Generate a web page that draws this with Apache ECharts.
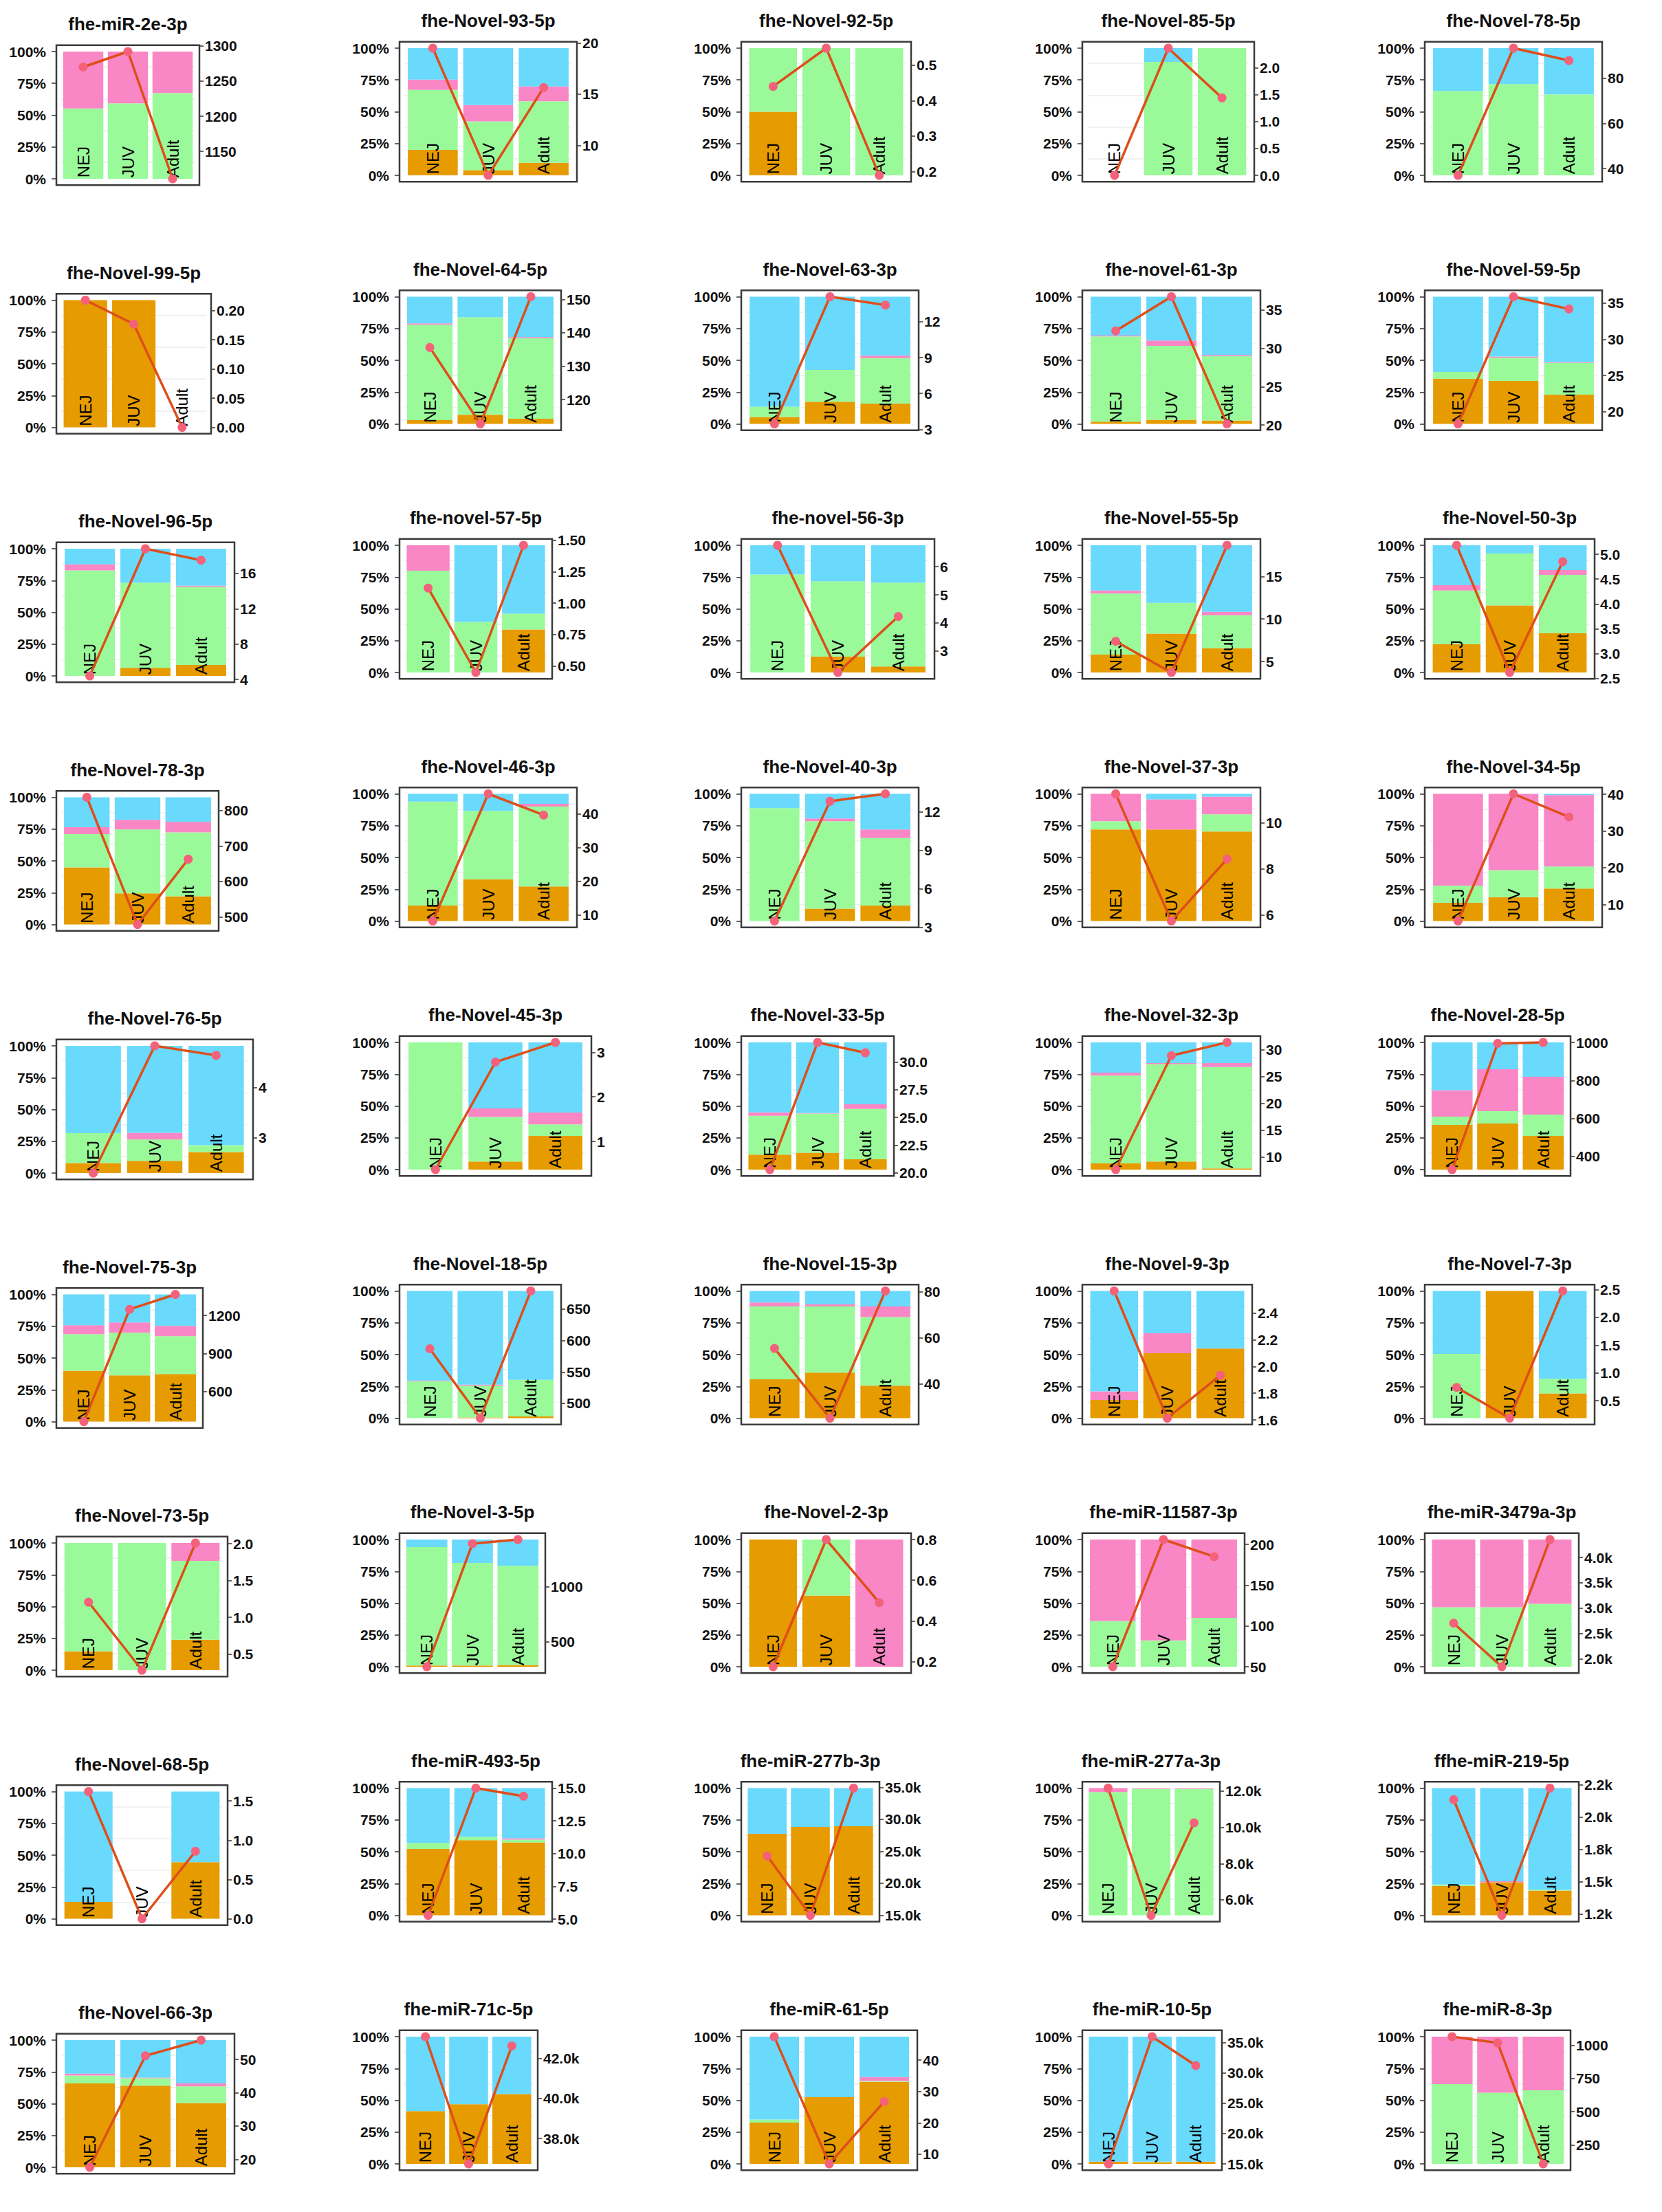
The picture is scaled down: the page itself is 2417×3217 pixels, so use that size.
<!DOCTYPE html>
<html>
<head>
<meta charset="utf-8">
<style>
  html, body { margin: 0; padding: 0; background: #ffffff; }
  #chart { width: 2417px; height: 3217px; }
</style>
<script src="https://cdn.jsdelivr.net/npm/echarts@6.0.0/dist/echarts.min.js"></script>
</head>
<body>
<div id="chart"></div>
<script>
// stages on the x axis of every panel
const stages = ['NEJ', 'JUV', 'Adult']

const titles = [
  'fhe-miR-2e-3p', 'fhe-Novel-93-5p', 'fhe-Novel-92-5p', 'fhe-Novel-85-5p', 'fhe-Novel-78-5p',
  'fhe-Novel-99-5p', 'fhe-Novel-64-5p', 'fhe-Novel-63-3p', 'fhe-novel-61-3p', 'fhe-Novel-59-5p',
  'fhe-Novel-96-5p', 'fhe-novel-57-5p', 'fhe-novel-56-3p', 'fhe-Novel-55-5p', 'fhe-Novel-50-3p',
  'fhe-Novel-78-3p', 'fhe-Novel-46-3p', 'fhe-Novel-40-3p', 'fhe-Novel-37-3p', 'fhe-Novel-34-5p',
  'fhe-Novel-76-5p', 'fhe-Novel-45-3p', 'fhe-Novel-33-5p', 'fhe-Novel-32-3p', 'fhe-Novel-28-5p',
  'fhe-Novel-75-3p', 'fhe-Novel-18-5p', 'fhe-Novel-15-3p', 'fhe-Novel-9-3p', 'fhe-Novel-7-3p',
  'fhe-Novel-73-5p', 'fhe-Novel-3-5p', 'fhe-Novel-2-3p', 'fhe-miR-11587-3p', 'fhe-miR-3479a-3p',
  'fhe-Novel-68-5p', 'fhe-miR-493-5p', 'fhe-miR-277b-3p', 'fhe-miR-277a-3p', 'ffhe-miR-219-5p',
  'fhe-Novel-66-3p', 'fhe-miR-71c-5p', 'fhe-miR-61-5p', 'fhe-miR-10-5p', 'fhe-miR-8-3p'
]

// stacked shares per stage (NEJ, JUV, Adult), bottom to top: orange, green, pink, blue
const orangeShare = [
  [0, 0, 0], [0.2, 0.041, 0.099], [0.5, 0, 0], [0, 0, 0], [0, 0, 0],
  [1, 1, 0], [0.03, 0.072, 0.04], [0.054, 0.174, 0.16], [0.018, 0.032, 0.027], [0.354, 0.338, 0.23],
  [0, 0.063, 0.087], [0, 0, 0.338], [0, 0.126, 0.047], [0.14, 0.306, 0.19], [0.221, 0.527, 0.309],
  [0.448, 0.244, 0.222], [0.121, 0.329, 0.271], [0, 0.097, 0.121], [0.72, 0.72, 0.704], [0.143, 0.188, 0.255],
  [0.078, 0.096, 0.165], [0, 0.063, 0.265], [0.117, 0.132, 0.081], [0.049, 0.063, 0.009], [0.351, 0.362, 0.265],
  [0.4, 0.363, 0.374], [0, 0.005, 0.014], [0.305, 0.358, 0.256], [0.143, 0.511, 0.547], [0, 1, 0.194],
  [0.148, 0, 0.239], [0.009, 0.009, 0.014], [1, 0.559, 0], [0, 0, 0], [0, 0, 0],
  [0.133, 0, 0.445], [0.522, 0.591, 0.573], [0.64, 0.695, 0.7], [0, 0, 0], [0.231, 0.26, 0.195],
  [0.66, 0.642, 0.505], [0.415, 0.469, 0.549], [0.324, 0.524, 0.645], [0.018, 0.013, 0.018], [0, 0, 0]
]
const greenShare = [
  [0.553, 0.593, 0.674], [0.472, 0.384, 0.483], [0.5, 1, 1], [0, 0.892, 1], [0.664, 0.718, 0.637],
  [0, 0, 0], [0.75, 0.766, 0.633], [0.081, 0.251, 0.357], [0.67, 0.582, 0.506], [0.054, 0.182, 0.25],
  [0.83, 0.669, 0.613], [0.8, 0.397, 0.124], [0.77, 0.59, 0.658], [0.48, 0.241, 0.26], [0.423, 0.408, 0.459],
  [0.263, 0.503, 0.503], [0.818, 0.537, 0.629], [0.888, 0.688, 0.532], [0.065, 0, 0.135], [0.135, 0.212, 0.173],
  [0.235, 0.168, 0.054], [1, 0.351, 0.09], [0.306, 0.309, 0.396], [0.69, 0.766, 0.798], [0.065, 0.097, 0.167],
  [0.288, 0.336, 0.297], [0.29, 0.251, 0.287], [0.573, 0.52, 0.538], [0, 0, 0], [0.505, 0, 0.116],
  [0.852, 1, 0.62], [0.931, 0.807, 0.779], [0, 0.441, 0], [0.36, 0.207, 0.384], [0.468, 0.468, 0.495],
  [0, 0, 0], [0.047, 0.027, 0.022], [0, 0, 0], [0.969, 0.995, 0.995], [0.011, 0, 0.005],
  [0.062, 0.058, 0.131], [0, 0, 0], [0.025, 0, 0.006], [0, 0.005, 0], [0.627, 0.56, 0.578]
]
const pinkShare = [
  [0.447, 0.407, 0.326], [0.081, 0.128, 0.117], [0, 0, 0], [0, 0, 0], [0, 0, 0],
  [0, 0, 0], [0.01, 0, 0.009], [0, 0, 0.02], [0.007, 0.041, 0.009], [0, 0.01, 0.005],
  [0.047, 0, 0.01], [0.2, 0, 0], [0, 0, 0], [0.024, 0, 0.027], [0.043, 0, 0.038],
  [0.054, 0.076, 0.082], [0, 0, 0.021], [0, 0.022, 0.067], [0.215, 0.237, 0.139], [0.722, 0.6, 0.563],
  [0, 0.052, 0], [0, 0.067, 0.094], [0.027, 0.004, 0.037], [0.023, 0.009, 0.031], [0.209, 0.33, 0.298],
  [0.07, 0.081, 0.082], [0.006, 0.007, 0], [0.032, 0.018, 0.084], [0.068, 0.157, 0], [0, 0, 0],
  [0, 0, 0.141], [0, 0, 0], [0, 0, 1], [0.64, 0.793, 0.616], [0.532, 0.532, 0.505],
  [0, 0, 0], [0, 0, 0.01], [0, 0, 0], [0.031, 0.005, 0.005], [0, 0.007, 0],
  [0.014, 0.005, 0.024], [0, 0, 0], [0, 0, 0.031], [0, 0, 0], [0.373, 0.44, 0.422]
]
const blueShare = [
  [0, 0, 0], [0.247, 0.447, 0.301], [0, 0, 0], [0, 0.108, 0], [0.336, 0.282, 0.363],
  [0, 0, 0], [0.21, 0.162, 0.318], [0.865, 0.575, 0.463], [0.305, 0.345, 0.458], [0.592, 0.47, 0.515],
  [0.123, 0.268, 0.29], [0, 0.603, 0.538], [0.23, 0.284, 0.295], [0.356, 0.453, 0.523], [0.313, 0.065, 0.194],
  [0.235, 0.177, 0.193], [0.061, 0.134, 0.079], [0.112, 0.193, 0.28], [0, 0.043, 0.022], [0, 0, 0.009],
  [0.687, 0.684, 0.781], [0, 0.519, 0.551], [0.55, 0.555, 0.486], [0.238, 0.162, 0.162], [0.375, 0.211, 0.27],
  [0.242, 0.22, 0.247], [0.704, 0.737, 0.699], [0.09, 0.104, 0.122], [0.789, 0.332, 0.453], [0.495, 0, 0.69],
  [0, 0, 0], [0.06, 0.184, 0.207], [0, 0, 0], [0, 0, 0], [0, 0, 0],
  [0.867, 0, 0.555], [0.431, 0.382, 0.395], [0.36, 0.305, 0.3], [0, 0, 0], [0.758, 0.733, 0.8],
  [0.264, 0.295, 0.34], [0.585, 0.531, 0.451], [0.651, 0.476, 0.318], [0.982, 0.982, 0.982], [0, 0, 0]
]

// expression values drawn as the red line (right axis)
const lineValues = [
  [1270, 1292, 1111], [19.49, 7.07, 15.64], [0.44, 0.548, 0.189], [0, 2.37, 1.443], [37, 93.4, 87.9],
  [0.218, 0.177, 0], [135.6, 112.7, 150.8], [3.45, 14.1, 13.4], [32.25, 36.7, 20.15], [18.3, 35.9, 34.2],
  [4.4, 18.8, 17.5], [1.12, 0.449, 1.46], [6.76, 2.24, 4.23], [7.37, 3.71, 18.66], [5.18, 2.62, 4.85],
  [837.7, 478.6, 663], [8.2, 45.9, 39.6], [3.47, 12.8, 13.38], [11.27, 5.73, 8.43], [5.5, 40.1, 33.8],
  [2.3, 4.83, 4.64], [0.37, 2.78, 3.22], [20.3, 31.76, 30.83], [7.65, 28.9, 31.37], [331, 995, 1000],
  [360, 1249, 1367], [587, 476.4, 679], [55.4, 25.2, 80.3], [2.563, 1.614, 1.934], [0.74, 0.186, 2.475],
  [1.206, 0.281, 2.01], [271, 1390, 1427], [0.175, 0.8, 0.49], [50, 206, 185], [2701, 1842, 4353],
  [1.62, 0, 0.86], [5.3, 15, 14.38], [24270, 15000, 34890], [12166, 5145, 10250], [2134, 1241, 2223],
  [17.6, 51.1, 55.8], [43101, 36725, 42636], [47.5, 6.9, 26.8], [15000, 35949, 31190], [1066, 1019, 107]
]

// right axis ticks and their printed labels
const rightTicks = [
  [1150, 1200, 1250, 1300], [10, 15, 20], [0.2, 0.3, 0.4, 0.5], [0, 0.5, 1, 1.5, 2], [40, 60, 80],
  [0, 0.05, 0.1, 0.15, 0.2], [120, 130, 140, 150], [3, 6, 9, 12], [20, 25, 30, 35], [20, 25, 30, 35],
  [4, 8, 12, 16], [0.5, 0.75, 1, 1.25, 1.5], [3, 4, 5, 6], [5, 10, 15], [2.5, 3, 3.5, 4, 4.5, 5],
  [500, 600, 700, 800], [10, 20, 30, 40], [3, 6, 9, 12], [6, 8, 10], [10, 20, 30, 40],
  [3, 4], [1, 2, 3], [20, 22.5, 25, 27.5, 30], [10, 15, 20, 25, 30], [400, 600, 800, 1000],
  [600, 900, 1200], [500, 550, 600, 650], [40, 60, 80], [1.6, 1.8, 2, 2.2, 2.4], [0.5, 1, 1.5, 2, 2.5],
  [0.5, 1, 1.5, 2], [500, 1000], [0.2, 0.4, 0.6, 0.8], [50, 100, 150, 200], [2000, 2500, 3000, 3500, 4000],
  [0, 0.5, 1, 1.5], [5, 7.5, 10, 12.5, 15], [15000, 20000, 25000, 30000, 35000], [6000, 8000, 10000, 12000], [1250, 1500, 1750, 2000, 2250],
  [20, 30, 40, 50], [38000, 40000, 42000], [10, 20, 30, 40], [15000, 20000, 25000, 30000, 35000], [250, 500, 750, 1000]
]
const rightTickLabels = [
  ['1150', '1200', '1250', '1300'], ['10', '15', '20'], ['0.2', '0.3', '0.4', '0.5'], ['0.0', '0.5', '1.0', '1.5', '2.0'], ['40', '60', '80'],
  ['0.00', '0.05', '0.10', '0.15', '0.20'], ['120', '130', '140', '150'], ['3', '6', '9', '12'], ['20', '25', '30', '35'], ['20', '25', '30', '35'],
  ['4', '8', '12', '16'], ['0.50', '0.75', '1.00', '1.25', '1.50'], ['3', '4', '5', '6'], ['5', '10', '15'], ['2.5', '3.0', '3.5', '4.0', '4.5', '5.0'],
  ['500', '600', '700', '800'], ['10', '20', '30', '40'], ['3', '6', '9', '12'], ['6', '8', '10'], ['10', '20', '30', '40'],
  ['3', '4'], ['1', '2', '3'], ['20.0', '22.5', '25.0', '27.5', '30.0'], ['10', '15', '20', '25', '30'], ['400', '600', '800', '1000'],
  ['600', '900', '1200'], ['500', '550', '600', '650'], ['40', '60', '80'], ['1.6', '1.8', '2.0', '2.2', '2.4'], ['0.5', '1.0', '1.5', '2.0', '2.5'],
  ['0.5', '1.0', '1.5', '2.0'], ['500', '1000'], ['0.2', '0.4', '0.6', '0.8'], ['50', '100', '150', '200'], ['2.0k', '2.5k', '3.0k', '3.5k', '4.0k'],
  ['0.0', '0.5', '1.0', '1.5'], ['5.0', '7.5', '10.0', '12.5', '15.0'], ['15.0k', '20.0k', '25.0k', '30.0k', '35.0k'], ['6.0k', '8.0k', '10.0k', '12.0k'], ['1.2k', '1.5k', '1.8k', '2.0k', '2.2k'],
  ['20', '30', '40', '50'], ['38.0k', '40.0k', '42.0k'], ['10', '20', '30', '40'], ['15.0k', '20.0k', '25.0k', '30.0k', '35.0k'], ['250', '500', '750', '1000']
]

// layout: frame width of each panel (px)
const panelWidths = [
  208, 258, 247, 250, 258,
  225, 235, 258, 259, 258,
  259, 222, 281, 259, 247,
  236, 258, 258, 259, 258,
  286, 279, 222, 259, 212,
  213, 235, 258, 247, 247,
  249, 212, 247, 236, 224,
  249, 222, 201, 200, 224,
  259, 201, 256, 203, 212
]
const colLeft = [82, 581, 1078, 1574, 2072]
const rowTop = 70        // y of the 100% line in the first row
const rowStep = 361.5
const plotH = 185        // 0% to 100% height

const FONT = '"Liberation Sans", Arial, Helvetica, sans-serif'
const segColors = ['#E69B00', '#9AFA9A', '#F987C5', '#69D9FC']
const shareTicks = [0, 0.25, 0.5, 0.75, 1]

const chart = echarts.init(document.getElementById('chart'), null, { renderer: 'svg' })

const grid = []
const xAxis = []
const yAxis = []
const series = []
const title = []
const graphic = []

titles.forEach((name, i) => {
  const r = Math.floor(i / 5)
  const c = i % 5
  const w = panelWidths[i]
  const left = colLeft[c]
  const y100 = rowTop + r * rowStep + (c === 0 ? 5 : 0)
  const top = y100 - plotH * 0.05
  const h = plotH * 1.1
  const pad = w / 32   // ggplot discrete expansion: 0.6 over 3 categories

  grid.push({
    left: left + pad, top, width: w - 2 * pad, height: h,
    containLabel: false, outerBoundsMode: 'none', show: false
  })

  xAxis.push({
    type: 'category', gridIndex: i, data: stages, z: 10,
    axisLine: { show: false }, axisTick: { show: false }, splitLine: { show: false },
    axisLabel: {
      inside: true, rotate: 90, margin: 11, interval: 0,
      fontSize: 24, color: '#000', fontFamily: FONT
    }
  })

  // left axis: share of reads
  yAxis.push({
    type: 'value', gridIndex: i, position: 'left', offset: pad,
    min: -0.05, max: 1.05,
    axisLine: { show: false }, splitLine: { show: false },
    axisTick: { show: true, length: 7, customValues: shareTicks, lineStyle: { color: '#333', width: 1.5 } },
    axisLabel: {
      customValues: shareTicks, margin: 15,
      formatter: v => Math.round(v * 100) + '%',
      fontSize: 21, fontWeight: 'bold', color: '#111', fontFamily: FONT
    }
  })

  // right axis: expression value
  const vals = lineValues[i]
  const lo = Math.min(...vals)
  const hi = Math.max(...vals)
  const span = hi - lo
  const ticks = rightTicks[i]
  const labels = rightTickLabels[i]
  yAxis.push({
    type: 'value', gridIndex: i, position: 'right', offset: pad,
    min: lo - 0.05 * span, max: hi + 0.05 * span,
    axisLine: { show: false }, splitLine: { show: false },
    axisTick: { show: true, length: 6, customValues: ticks, lineStyle: { color: '#333', width: 1.5 } },
    axisLabel: {
      customValues: ticks, margin: 8,
      formatter: v => {
        const k = ticks.findIndex(t => Math.abs(t - v) <= 1e-9 * Math.max(1, Math.abs(t)))
        return k >= 0 ? labels[k] : ''
      },
      fontSize: 21, fontWeight: 'bold', color: '#111', fontFamily: FONT
    }
  })

  // faint panel gridlines behind bars
  series.push({
    type: 'line', xAxisIndex: i, yAxisIndex: 2 * i, data: [], silent: true,
    markLine: {
      silent: true, symbol: 'none', z: 1, animation: false,
      label: { show: false },
      lineStyle: { color: '#ECECEC', width: 1.5, type: 'solid' },
      data: [0.125, 0.375, 0.625, 0.875].map(v => ({ yAxis: v }))
    }
  })

  ;[orangeShare, greenShare, pinkShare, blueShare].forEach((arr, k) => {
    series.push({
      type: 'bar', xAxisIndex: i, yAxisIndex: 2 * i, stack: 'panel' + i,
      data: arr[i], barCategoryGap: '10%', silent: true, z: 2,
      itemStyle: { color: segColors[k] }
    })
  })

  series.push({
    type: 'line', xAxisIndex: i, yAxisIndex: 2 * i + 1, data: vals,
    symbol: 'circle', symbolSize: 13, clip: false, z: 12, silent: true,
    lineStyle: { color: '#DE4E1A', width: 3.5 },
    itemStyle: { color: '#F4617A' }
  })

  title.push({
    text: name, left: left + w / 2, top: y100 - 40, padding: 0,
    textAlign: 'center', textVerticalAlign: 'middle',
    textStyle: { fontSize: 26, fontWeight: 'bold', color: '#111', fontFamily: FONT }
  })

  graphic.push({
    type: 'rect', silent: true, z: 20,
    shape: { x: left, y: top, width: w, height: h },
    style: { fill: 'none', stroke: '#3b3b3b', lineWidth: 2.5 }
  })
})

chart.setOption({
  animation: false,
  backgroundColor: '#ffffff',
  title,
  grid,
  xAxis,
  yAxis,
  series,
  graphic
})
</script>
</body>
</html>
